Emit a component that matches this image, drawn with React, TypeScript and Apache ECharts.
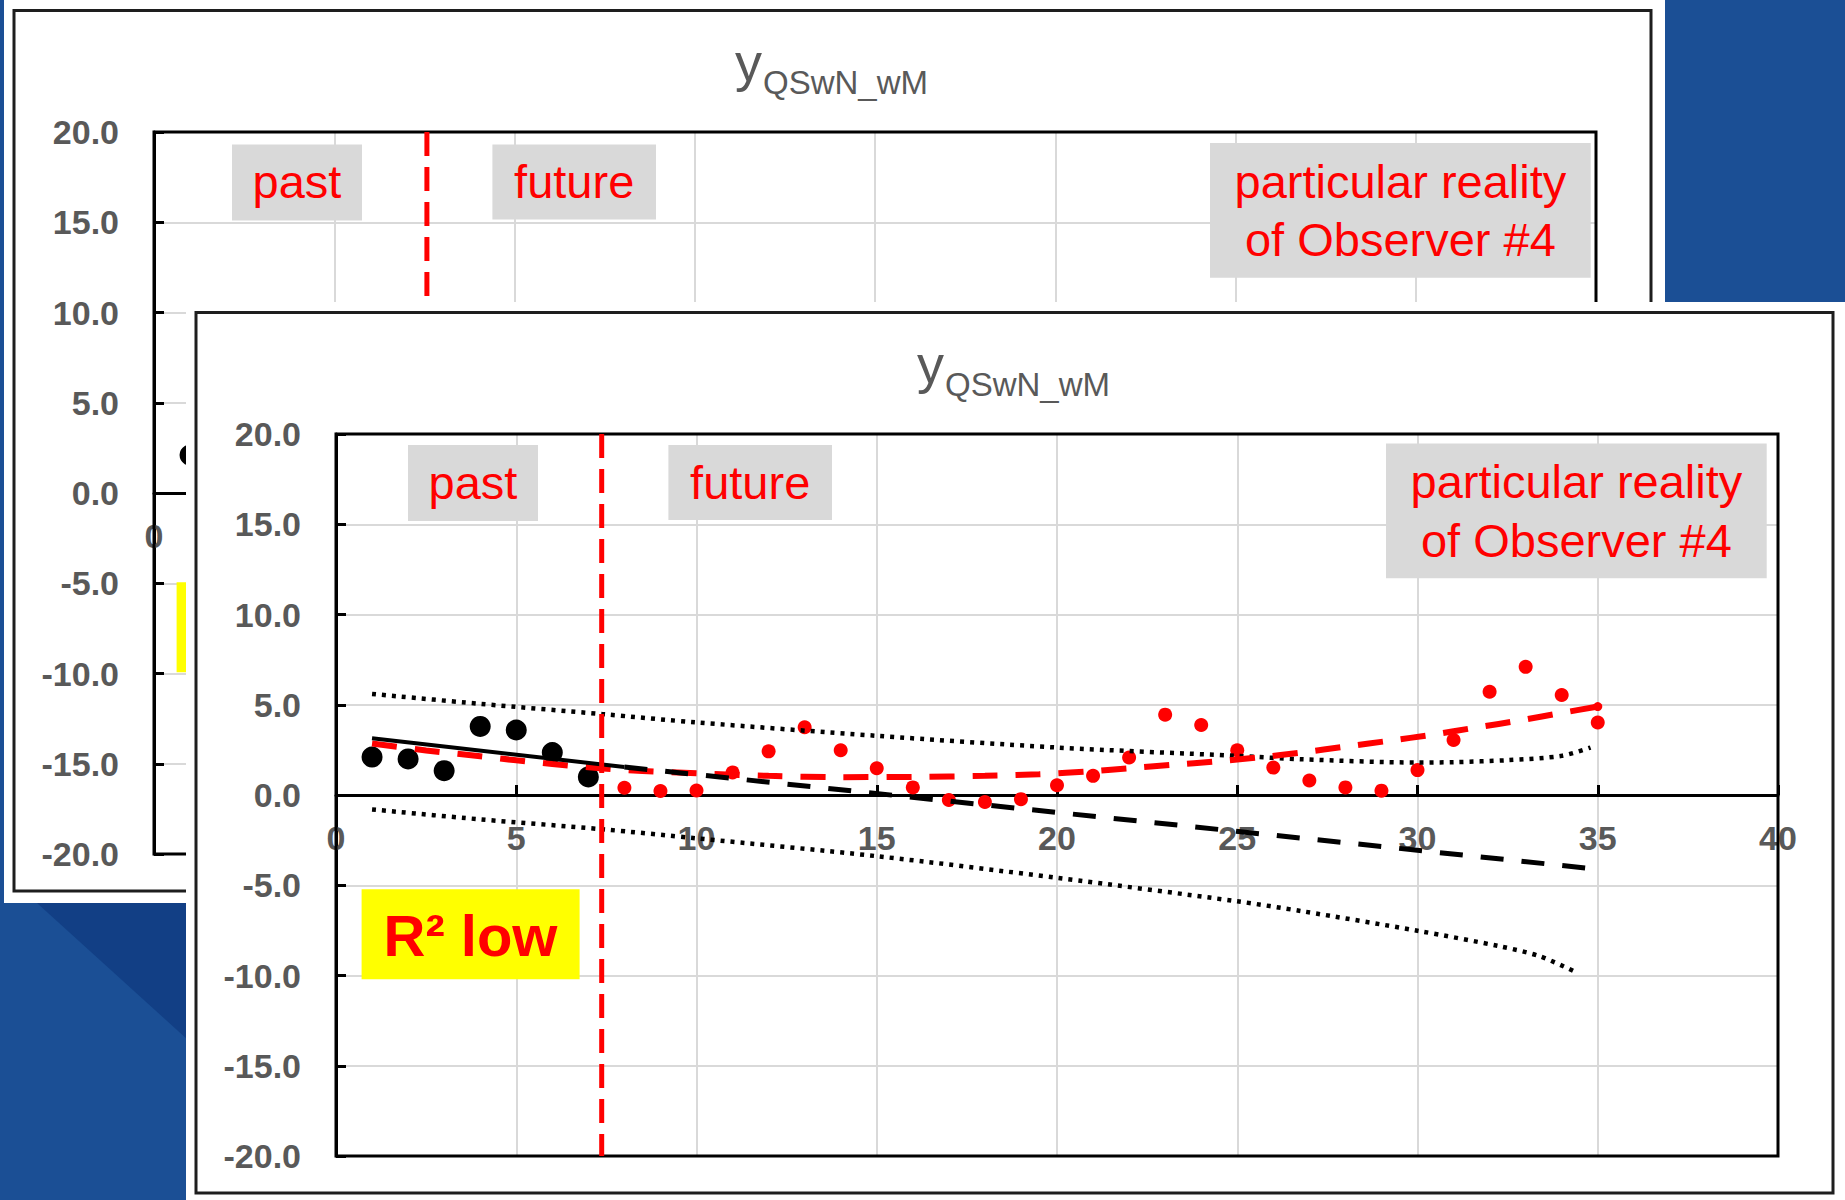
import React, { useEffect, useRef } from "react";
import * as echarts from "echarts";

// ---------- data ----------
const pastX = [1, 2, 3, 4, 5, 6, 7];
const pastY = [2.1, 2.0, 1.35, 3.8, 3.6, 2.35, 1.0];

const futureX = [8, 9, 10, 11, 12, 13, 14, 15, 16, 17, 18, 19, 20, 21, 22, 23, 24, 25, 26, 27, 28, 29, 30, 31, 32, 33, 34, 35];
const futureY = [0.4, 0.22, 0.25, 1.25, 2.42, 3.75, 2.48, 1.48, 0.42, -0.28, -0.39, -0.23, 0.54, 1.06, 2.08, 4.45, 3.88, 2.48, 1.52, 0.8, 0.42, 0.24, 1.38, 3.05, 5.72, 7.1, 5.54, 4.02];

const fitPastX = [1, 8];
const fitPastY = [3.15, 1.55];
const fitFutureX = [8, 34.7];
const fitFutureY = [1.55, -4.05];

const upperX = [1, 4, 7.4, 10, 15, 20, 25, 26.8, 30, 31, 32.5, 34, 34.8];
const upperY = [5.6, 5.05, 4.48, 4.02, 3.28, 2.63, 2.17, 1.98, 1.8, 1.82, 1.93, 2.17, 2.63];

const lowerX = [1, 4, 7.4, 10, 15, 20, 25, 26.8, 30, 32.3, 33.4, 34.45];
const lowerY = [-0.8, -1.35, -1.9, -2.4, -3.39, -4.59, -5.89, -6.44, -7.52, -8.39, -8.94, -9.87];

const trendX = [1, 2.5, 4, 5, 6, 7.4, 8.5, 10, 12, 14, 16, 18, 19.5, 21, 22, 23.2, 24.4, 25.6, 26.8, 28, 29.2, 30.4, 31.6, 32.9, 34, 35];
const trendY = [2.85, 2.47, 2.15, 1.92, 1.72, 1.47, 1.33, 1.2, 1.06, 0.99, 1.0, 1.06, 1.15, 1.32, 1.48, 1.67, 1.86, 2.08, 2.36, 2.68, 3.0, 3.34, 3.73, 4.15, 4.55, 4.9];

const splitFront = 7.37;
const splitBack = 7.57;

const xRange = { min: 0, max: 40, step: 5 };
const yRange = { min: -20, max: 20, step: 5 };

const titleMain = "y";
const titleSub = "QSwN_wM";
const labelPast = "past";
const labelFuture = "future";
const labelReality = "particular reality\nof Observer #4";
const labelR2 = "R\u00B2 low";

// ---------- helpers ----------
const zip = (xs: number[], ys: number[]) => xs.map((x, i) => [x, ys[i]]);

const FONT = '"Liberation Sans", Arial, sans-serif';
const GRAY = "#595959";
const RED = "#FF0000";

type Params = {
  split: number;
  boxDx: number;
  boxDy: number;
  yelDx: number;
  yelDy: number;
};

function buildOption(p: Params) {
  const L = 150, T = 132, W = 1442, H = 722;
  // pixel distance from the grid bottom up to the y = 0 line
  const zeroOffset = (H * (0 - yRange.min)) / (yRange.max - yRange.min);
  const axisLabel = {
    color: GRAY,
    fontFamily: FONT,
    fontWeight: "bold",
    fontSize: 34,
  };
  const box = (x: number, y: number, w: number, h: number, fill: string) => ({
    type: "rect",
    z: 20,
    shape: { x, y, width: w, height: h },
    style: { fill },
  });
  const txt = (text: string, x: number, y: number, font: string, fill: string, align = "center", lineHeight?: number) => ({
    type: "text",
    z: 21,
    style: {
      text,
      x,
      y,
      font,
      fill,
      align,
      verticalAlign: "middle",
      ...(lineHeight ? { lineHeight } : {}),
    },
  });
  const bx = p.boxDx, by = p.boxDy;
  const graphic = [
    {
      type: "rect",
      z: 19,
      shape: { x: 10, y: 10.5, width: 1637, height: 880.5 },
      style: { fill: "none", stroke: "#1e1e1e", lineWidth: 3 },
    },
    txt(titleMain, 731, 62, `54px ${FONT}`, GRAY, "left"),
    txt(titleSub, 759, 82, `33px ${FONT}`, GRAY, "left"),
    box(222 + bx, 143 + by, 130, 76, "#D9D9D9"),
    txt(labelPast, 287 + bx, 180 + by, `47px ${FONT}`, RED),
    box(482.4 + bx, 143 + by, 163.6, 75, "#D9D9D9"),
    txt(labelFuture, 564.2 + bx, 180 + by, `47px ${FONT}`, RED),
    box(1200 + bx, 141.5 + by, 380.7, 134.8, "#D9D9D9"),
    txt(labelReality, 1390.4 + bx, 209 + by, `47px ${FONT}`, RED, "center", 58.4),
    box(175.6 + p.yelDx, 587.3 + p.yelDy, 218, 90, "#FFFF00"),
    txt(labelR2, 284.5 + p.yelDx, 633 + p.yelDy, `bold 58px ${FONT}`, RED),
  ];

  return {
    animation: false,
    grid: {
      left: L,
      top: T,
      width: W,
      height: H,
      show: true,
      borderColor: "#000",
      borderWidth: 3,
      backgroundColor: "transparent",
      z: 3,
    },
    xAxis: {
      type: "value",
      min: xRange.min,
      max: xRange.max,
      interval: xRange.step,
      position: "bottom",
      offset: -zeroOffset,
      axisLine: { show: true, onZero: false, lineStyle: { color: "#000", width: 3 } },
      axisTick: { show: true, inside: true, length: 10, lineStyle: { color: "#000", width: 3 } },
      axisLabel: { ...axisLabel, margin: 26, showMinLabel: true, showMaxLabel: true, hideOverlap: false },
      splitLine: { show: true, showMinLine: false, showMaxLine: false, lineStyle: { color: "#D9D9D9", width: 2 } },
    },
    yAxis: {
      type: "value",
      min: yRange.min,
      max: yRange.max,
      interval: yRange.step,
      axisLine: { show: true, onZero: false, lineStyle: { color: "#000", width: 3 } },
      axisTick: { show: true, inside: true, length: 10, lineStyle: { color: "#000", width: 3 } },
      axisLabel: { ...axisLabel, margin: 35, formatter: (v: number) => v.toFixed(1), showMinLabel: true, showMaxLabel: true },
      splitLine: { show: true, showMinLine: false, showMaxLine: false, lineStyle: { color: "#D9D9D9", width: 2 } },
    },
    series: [
      {
        type: "line",
        data: zip(upperX, upperY),
        showSymbol: false,
        smooth: 0.3,
        lineStyle: { color: "#000", width: 4.5, type: [4, 6] },
      },
      {
        type: "line",
        data: zip(lowerX, lowerY),
        showSymbol: false,
        smooth: 0.3,
        lineStyle: { color: "#000", width: 4.5, type: [4, 6] },
      },
      {
        type: "line",
        data: zip(trendX, trendY),
        showSymbol: false,
        smooth: 0.3,
        lineStyle: { color: RED, width: 6, type: [25, 18] },
      },
      {
        type: "line",
        data: zip(fitPastX, fitPastY),
        showSymbol: false,
        lineStyle: { color: "#000", width: 4 },
      },
      {
        type: "line",
        data: zip(fitFutureX, fitFutureY),
        showSymbol: false,
        lineStyle: { color: "#000", width: 5, type: [23, 18] },
      },
      {
        type: "line",
        data: [
          [p.split, yRange.max],
          [p.split, yRange.min],
        ],
        showSymbol: false,
        lineStyle: { color: RED, width: 5, type: [24, 11] },
      },
      {
        type: "scatter",
        data: zip(pastX, pastY),
        symbolSize: 21,
        itemStyle: { color: "#000", opacity: 1 },
      },
      {
        type: "scatter",
        data: zip(futureX, futureY),
        symbolSize: 14,
        itemStyle: { color: RED, opacity: 1 },
      },
      {
        type: "scatter",
        data: [[trendX[trendX.length - 1], trendY[trendY.length - 1]]],
        symbolSize: 9,
        itemStyle: { color: RED, opacity: 1 },
      },
    ],
    graphic,
  };
}

function ChartPanel(props: { left: number; top: number; width: number; height: number; params: Params }) {
  const ref = useRef<HTMLDivElement>(null);
  useEffect(() => {
    if (!ref.current) return;
    const chart = echarts.init(ref.current, null, { renderer: "svg" });
    chart.setOption(buildOption(props.params) as any);
    return () => chart.dispose();
  }, []);
  return (
    <div
      ref={ref}
      style={{
        position: "absolute",
        left: props.left,
        top: props.top,
        width: props.width,
        height: props.height,
        background: "#ffffff",
      }}
    />
  );
}

const BACK: Params = { split: splitBack, boxDx: 6, boxDy: 1.5, yelDx: -3, yelDy: -5 };
const FRONT: Params = { split: splitFront, boxDx: 0, boxDy: 0, yelDx: 0, yelDy: 0 };

export default function App() {
  useEffect(() => {
    document.body.style.margin = "0";
  }, []);
  return (
    <div
      style={{
        position: "absolute",
        left: 0,
        top: 0,
        width: 1845,
        height: 1200,
        overflow: "hidden",
        background: "#1B4F95",
      }}
    >
      <div
        style={{
          position: "absolute",
          left: 0,
          top: 0,
          width: 1845,
          height: 1200,
          background: "#123F85",
          clipPath: "polygon(37px 903px, 188px 903px, 188px 1040px)",
        }}
      />
      <ChartPanel left={4} top={0} width={1661} height={903} params={BACK} />
      <ChartPanel left={186} top={302} width={1659} height={898} params={FRONT} />
    </div>
  );
}
